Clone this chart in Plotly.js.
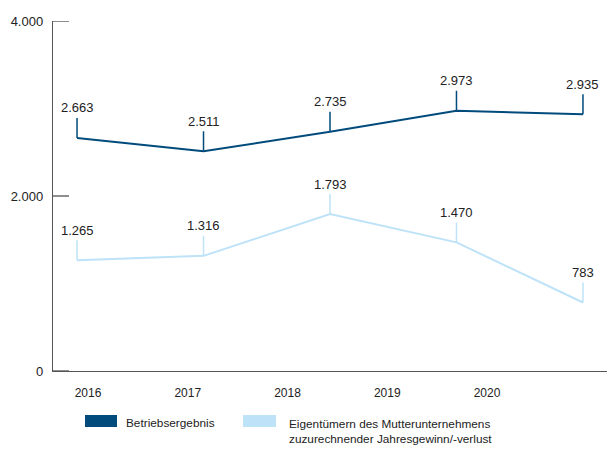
<!DOCTYPE html>
<html>
<head>
<meta charset="utf-8">
<script src="https://cdn.plot.ly/plotly-3.0.1.min.js"></script>
<style>html,body{margin:0;padding:0;background:#fff;}#chart{width:607px;height:449px;}</style>
</head>
<body>
<div id="chart"></div>
<script>
// ---- data ----
var years = ['2016', '2017', '2018', '2019', '2020'];
var betriebsergebnis = [2663, 2511, 2735, 2973, 2935];
var jahresgewinn = [1265, 1316, 1793, 1470, 783];
var seriesNames = ['Betriebsergebnis', 'Eigentümern des Mutterunternehmens<br>zuzurechnender Jahresgewinn/-verlust'];
var yTickVals = [0, 2000, 4000];
var yTickText = ['0', '2.000', '4.000'];

var darkBlue = '#004b7c';
var lightBlue = '#bee3f8';
var font = 'Liberation Sans, Arial, sans-serif';

function fmt(v) {
  var s = String(Math.round(v));
  return s.replace(/\B(?=(\d{3})+(?!\d))/g, '.');
}

// plot area in pixels (for legend placement)
var L = 53, R = 607, T = 21, B = 371;
function px(x) { return (x - L) / (R - L); }
function py(y) { return (B - y) / (B - T); }

var traces = [
  {x: years, y: betriebsergebnis, type: 'scatter', mode: 'lines', line: {color: darkBlue, width: 2}, showlegend: false, hoverinfo: 'skip', name: seriesNames[0]},
  {x: years, y: jahresgewinn, type: 'scatter', mode: 'lines', line: {color: lightBlue, width: 2}, showlegend: false, hoverinfo: 'skip', name: seriesNames[1]},
  // carrier trace for the year labels axis
  {x: years, y: years.map(function(){return null;}), xaxis: 'x2', type: 'scatter', mode: 'lines', showlegend: false, hoverinfo: 'skip'}
];

var annotations = [];
function addLabels(vals, color) {
  vals.forEach(function(v, i) {
    annotations.push({
      x: i, y: v, xref: 'x', yref: 'y',
      text: fmt(v), showarrow: true, arrowhead: 0, arrowwidth: 1.5, arrowcolor: color,
      ax: 0, ay: -30, standoff: 0, borderpad: 2,
      font: {family: font, size: 13, color: '#222'}
    });
  });
}
addLabels(betriebsergebnis, darkBlue);
addLabels(jahresgewinn, lightBlue);

// legend texts
annotations.push({xref: 'paper', yref: 'paper', x: px(124), y: py(423), xanchor: 'left', yanchor: 'middle', showarrow: false,
  text: seriesNames[0], font: {family: font, size: 11.8, color: '#222'}});
annotations.push({xref: 'paper', yref: 'paper', x: px(287), y: py(431), xanchor: 'left', yanchor: 'middle', showarrow: false, align: 'left',
  text: seriesNames[1], font: {family: font, size: 11.8, color: '#222'}});

var shapes = [
  {type: 'rect', xref: 'paper', yref: 'paper', x0: px(85), x1: px(117), y0: py(427), y1: py(415), fillcolor: darkBlue, line: {width: 0}},
  {type: 'rect', xref: 'paper', yref: 'paper', x0: px(243), x1: px(276), y0: py(427), y1: py(415), fillcolor: lightBlue, line: {width: 0}}
];
// y tick marks pointing into the plot
yTickVals.forEach(function(v) {
  shapes.push({type: 'line', xref: 'paper', yref: 'y', x0: 0, x1: px(69), y0: v, y1: v, line: {color: '#444', width: 1.2}});
});

var layout = {
  width: 607, height: 449,
  margin: {l: L, r: 607 - R, t: T, b: 449 - B},
  paper_bgcolor: '#fff', plot_bgcolor: '#fff',
  showlegend: false,
  font: {family: font, size: 13, color: '#222'},
  xaxis: {
    type: 'category', range: [-0.19, 4.19], showticklabels: false, ticks: '',
    showgrid: false, zeroline: false, showline: true, linecolor: '#555', linewidth: 1.2
  },
  xaxis2: {
    type: 'category', overlaying: 'x', anchor: 'y', side: 'bottom', range: [-0.351, 5.203],
    showgrid: false, zeroline: false, showline: false, ticks: '', ticklabelstandoff: 13,
    tickfont: {family: font, size: 12, color: '#222'}
  },
  yaxis: {
    range: [0, 4000], tickvals: yTickVals, ticktext: yTickText,
    ticks: '', showgrid: false, zeroline: false, showline: true, linecolor: '#555', linewidth: 1.2,
    ticklabelstandoff: 6, tickfont: {family: font, size: 13, color: '#222'}
  },
  annotations: annotations,
  shapes: shapes
};

Plotly.newPlot('chart', traces, layout, {staticPlot: true, displayModeBar: false});
</script>
</body>
</html>
